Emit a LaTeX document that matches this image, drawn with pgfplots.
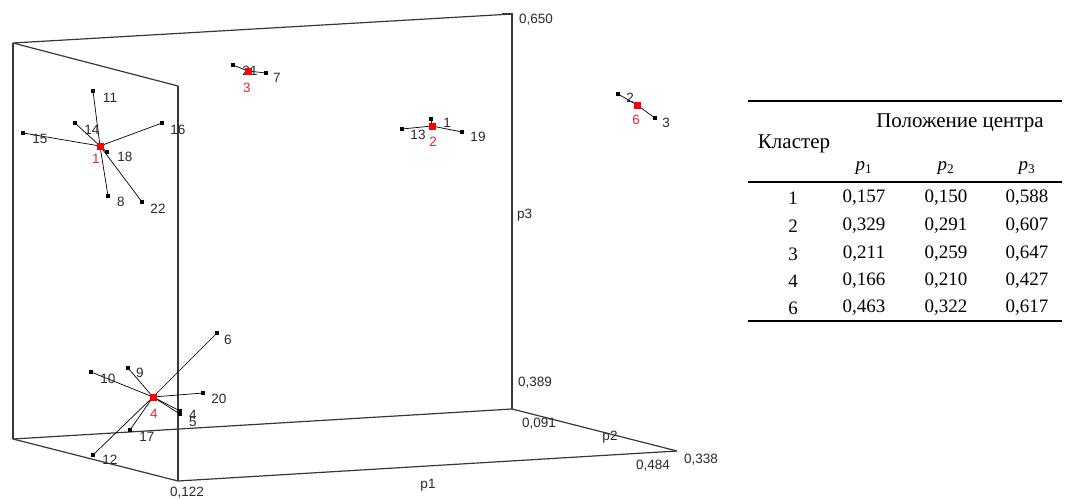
\documentclass[border=0pt]{standalone}
\usepackage{fontspec}
\setmainfont{Liberation Sans}
\newfontfamily\tabfont{Liberation Serif}
\usepackage{pgfplots}
\pgfplotsset{compat=1.18}
\definecolor{framec}{RGB}{55,55,55}
\definecolor{labred}{RGB}{235,35,50}
\definecolor{lab}{RGB}{40,40,55}
\begin{document}
\begin{tikzpicture}
\begin{axis}[x=1pt,y=1pt,xmin=0,xmax=1071,ymin=0,ymax=500,y dir=reverse,
  hide axis,clip=false,
  fr/.style={color=framec,line width=1.2pt,no marks},
  ray/.style={black,line width=0.7pt,mark=square*,mark size=1.3pt,mark options={black,solid},mark indices={2}},
  ]
\coordinate (bl) at (rel axis cs:0,0);
\coordinate (tr) at (rel axis cs:1,1);
% frame of the 3D box
\addplot[fr] coordinates {(13,43) (512,14)};
\addplot[fr] coordinates {(13,43) (178,86)};
\addplot[fr] coordinates {(13,43) (13,439)};
\addplot[fr] coordinates {(178,86) (178,481)};
\addplot[fr] coordinates {(502,14) (512,14) (512,409)};
\addplot[fr] coordinates {(13,439) (512,409)};
\addplot[fr] coordinates {(13,439) (178,481)};
\addplot[fr] coordinates {(178,481) (677,451)};
\addplot[fr] coordinates {(512,409) (677,451)};
% cluster 1
\addplot[ray] coordinates {(100,146) (93,91)};
\addplot[ray] coordinates {(100,146) (75,123)};
\addplot[ray] coordinates {(100,146) (23,133)};
\addplot[ray] coordinates {(100,146) (162,123)};
\addplot[ray] coordinates {(100,146) (107,152)};
\addplot[ray] coordinates {(100,146) (108,196)};
\addplot[ray] coordinates {(100,146) (142,202)};
% cluster 3
\addplot[ray] coordinates {(248,71) (233,65)};
\addplot[ray] coordinates {(248,71) (266,73)};
% cluster 2
\addplot[ray] coordinates {(432,126) (431,119)};
\addplot[ray] coordinates {(432,126) (402,129)};
\addplot[ray] coordinates {(432,126) (462,132)};
% cluster 6
\addplot[ray] coordinates {(637,105) (618,94)};
\addplot[ray] coordinates {(637,105) (655,118)};
% cluster 4
\addplot[ray] coordinates {(153,397) (217,333)};
\addplot[ray] coordinates {(153,397) (128,368)};
\addplot[ray] coordinates {(153,397) (91,372)};
\addplot[ray] coordinates {(153,397) (203,393)};
\addplot[ray] coordinates {(153,397) (180,411)};
\addplot[ray] coordinates {(153,397) (180,414)};
\addplot[ray] coordinates {(153,397) (130,430)};
\addplot[ray] coordinates {(153,397) (93,455)};
% centres
\addplot[only marks,mark=square*,mark size=3.2pt,color=red] coordinates {(100,146) (248,71) (432,126) (637,105) (153,397)};
\begin{scope}[every node/.append style={font=\fontsize{13.5}{14}\selectfont,text=lab,inner sep=0pt}]
% point labels
\node at (axis cs:110,98) {11};
\node at (axis cs:92,130) {14};
\node at (axis cs:40,139) {15};
\node at (axis cs:178,130) {16};
\node at (axis cs:125,157) {18};
\node at (axis cs:121,202) {8};
\node at (axis cs:158,209) {22};
\node at (axis cs:250,71) {21};
\node at (axis cs:277,78) {7};
\node at (axis cs:447,123) {1};
\node at (axis cs:418,135) {13};
\node at (axis cs:478,137) {19};
\node at (axis cs:630,98) {2};
\node at (axis cs:666,123) {3};
\node at (axis cs:228,340) {6};
\node at (axis cs:140,373) {9};
\node at (axis cs:108,379) {10};
\node at (axis cs:219,399) {20};
\node at (axis cs:193,415) {4};
\node at (axis cs:193,422) {5};
\node at (axis cs:147,437) {17};
\node at (axis cs:110,460) {12};
% cluster labels
\node[text=labred] at (axis cs:96,159) {1};
\node[text=labred] at (axis cs:247,88) {3};
\node[text=labred] at (axis cs:433,142) {2};
\node[text=labred] at (axis cs:636,120) {6};
\node[text=labred] at (axis cs:154,414) {4};
% axis labels
\node[anchor=west] at (axis cs:519,20) {0,650};
\node[anchor=west] at (axis cs:517,215) {p3};
\node[anchor=west] at (axis cs:518,383) {0,389};
\node[anchor=west] at (axis cs:522,424) {0,091};
\node at (axis cs:610,437) {p2};
\node at (axis cs:653,466) {0,484};
\node[anchor=west] at (axis cs:684,460) {0,338};
\node at (axis cs:428,485) {p1};
\node at (axis cs:187,493) {0,122};
\end{scope}
% table
\draw[black,line width=1.2pt] (axis cs:748,101) -- (axis cs:1062,101);
\draw[black,line width=1.2pt] (axis cs:748,182) -- (axis cs:1062,182);
\draw[black,line width=1.4pt] (axis cs:748,321) -- (axis cs:1062,321);
\begin{scope}[every node/.append style={font=\tabfont\fontsize{19}{21}\selectfont,text=black}]
\node[font=\tabfont\fontsize{21}{23}\selectfont] at (axis cs:794,144) {Кластер};
\node[font=\tabfont\fontsize{21}{23}\selectfont] at (axis cs:960,123) {Положение центра};
\node at (axis cs:864,168) {\itshape p\textsubscript{\upshape 1}};
\node at (axis cs:946,168) {\itshape p\textsubscript{\upshape 2}};
\node at (axis cs:1027,168) {\itshape p\textsubscript{\upshape 3}};
\node at (axis cs:793,198) {1};
\node at (axis cs:864,198) {0,157};
\node at (axis cs:946,198) {0,150};
\node at (axis cs:1027,198) {0,588};
\node at (axis cs:793,226) {2};
\node at (axis cs:864,226) {0,329};
\node at (axis cs:946,226) {0,291};
\node at (axis cs:1027,226) {0,607};
\node at (axis cs:793,254) {3};
\node at (axis cs:864,254) {0,211};
\node at (axis cs:946,254) {0,259};
\node at (axis cs:1027,254) {0,647};
\node at (axis cs:793,281) {4};
\node at (axis cs:864,281) {0,166};
\node at (axis cs:946,281) {0,210};
\node at (axis cs:1027,281) {0,427};
\node at (axis cs:793,308) {6};
\node at (axis cs:864,308) {0,463};
\node at (axis cs:946,308) {0,322};
\node at (axis cs:1027,308) {0,617};
\end{scope}
\end{axis}
\pgfresetboundingbox
\useasboundingbox (bl) rectangle (tr);
\end{tikzpicture}
\end{document}
